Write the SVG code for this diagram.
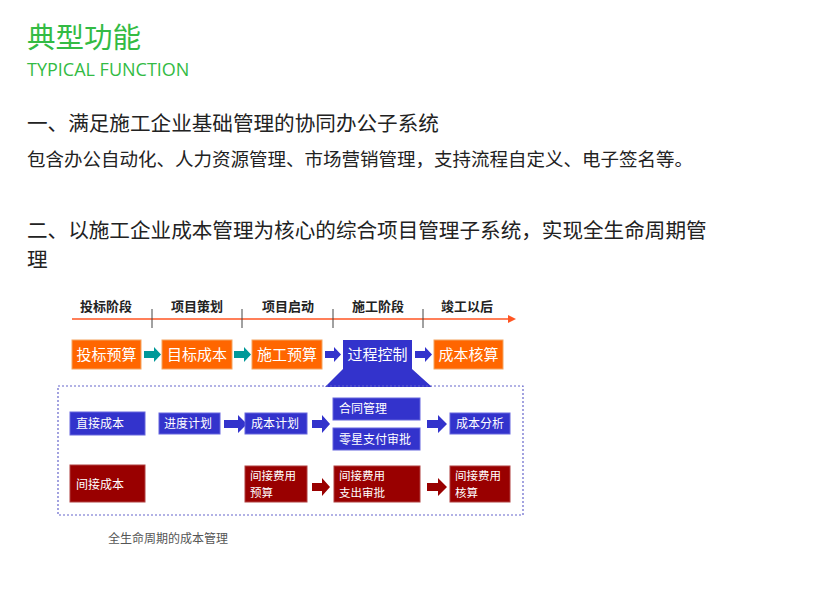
<svg xmlns="http://www.w3.org/2000/svg" width="828" height="590" viewBox="0 0 828 590">
<style>
text{font-family:"Noto Sans CJK SC","Noto Sans",sans-serif}
.o{fill:#FF6600;stroke:#F4A460;stroke-width:1}
.b{fill:#3333CC;stroke:#6666DD;stroke-width:1}
.r{fill:#990000;stroke:#B04040;stroke-width:1}
.lt{fill:#fff;font-size:15px;text-anchor:middle}
.st{fill:#fff;font-size:12px}
.st2{fill:#fff;font-size:11.5px}
.stg{fill:#222;font-size:13px;font-weight:bold;text-anchor:middle}
</style>
<rect width="828" height="590" fill="#fff"/>
<text x="27" y="48" font-size="28.5" fill="#33BB44">典型功能</text>
<text x="27" y="76" font-size="18" fill="#33BB44" style="font-family:'Open Sans',sans-serif">TYPICAL FUNCTION</text>
<text x="27" y="131" font-size="20.6" fill="#222">一、满足施工企业基础管理的协同办公子系统</text>
<text x="27" y="166" font-size="18.5" fill="#222">包含办公自动化、人力资源管理、市场营销管理，支持流程自定义、电子签名等。</text>
<text x="27" y="238" font-size="20.6" fill="#222">二、以施工企业成本管理为核心的综合项目管理子系统，实现全生命周期管</text>
<text x="27" y="267" font-size="20.6" fill="#222">理</text>
<g id="timeline">
<line x1="72" y1="319" x2="510" y2="319" stroke="#FF5522" stroke-width="1.5"/>
<polygon points="508,315 516,319 508,323" fill="#FF5522"/>
<g stroke="#444" stroke-width="1"><line x1="152" y1="309" x2="152" y2="328"/><line x1="242" y1="309" x2="242" y2="328"/><line x1="333" y1="309" x2="333" y2="328"/><line x1="423" y1="309" x2="423" y2="328"/></g>
<text class="stg" x="106" y="311">投标阶段</text><text class="stg" x="197" y="311">项目策划</text><text class="stg" x="288" y="311">项目启动</text><text class="stg" x="378" y="311">施工阶段</text><text class="stg" x="467" y="311">竣工以后</text>
</g>
<g id="connectors">
<g fill="#009999"><polygon points="144,351 154,351 154,347 161,354.5 154,362 154,358 144,358"/><polygon points="234,351 244,351 244,347 251,354.5 244,362 244,358 234,358"/></g>
<g fill="#3333CC"><polygon points="325,351 334,351 334,347 341,354.5 334,362 334,358 325,358"/><polygon points="415,351 425,351 425,347 432,354.5 425,362 425,358 415,358"/>
<polygon points="224,420 238,420 238,415 247,424 238,433 238,428 224,428"/><polygon points="312,420 322,420 322,415 330,424 322,433 322,428 312,428"/><polygon points="427,420 438,420 438,415 447,424 438,433 438,428 427,428"/></g>
<g fill="#990000"><polygon points="312,483 322,483 322,478 330,487 322,496 322,491 312,491"/><polygon points="427,483 438,483 438,478 447,487 438,496 438,491 427,491"/></g>
</g>
<g id="n1"><rect class="o" x="72" y="340" width="69" height="29"/><text class="lt" x="106.5" y="360">投标预算</text></g>
<g id="n2"><rect class="o" x="162" y="340" width="70" height="29"/><text class="lt" x="197" y="360">目标成本</text></g>
<g id="n3"><rect class="o" x="252" y="340" width="70" height="29"/><text class="lt" x="287" y="360">施工预算</text></g>
<g id="n4"><polygon points="343,340 412,340 412,369 432,387 325,387 343,369" fill="#3333CC"/><text class="lt" x="377.5" y="360">过程控制</text></g>
<g id="n5"><rect class="o" x="434" y="340" width="69" height="29"/><text class="lt" x="468.5" y="360">成本核算</text></g>
<rect x="58" y="386" width="465" height="129" fill="none" stroke="#6666CC" stroke-width="1.2" stroke-dasharray="2,2"/>
<g id="d1"><rect class="b" x="70" y="412" width="75" height="23"/><text class="st" x="76" y="428">直接成本</text></g>
<g id="d2"><rect class="b" x="159" y="413" width="61" height="21"/><text class="st" x="164" y="428">进度计划</text></g>
<g id="d3"><rect class="b" x="245" y="413" width="62" height="21"/><text class="st" x="251" y="428">成本计划</text></g>
<g id="d4"><rect class="b" x="333" y="398" width="87" height="22"/><text class="st" x="339" y="413">合同管理</text></g>
<g id="d5"><rect class="b" x="333" y="428" width="87" height="22"/><text class="st" x="339" y="444">零星支付审批</text></g>
<g id="d6"><rect class="b" x="450" y="413" width="60" height="21"/><text class="st" x="456" y="428">成本分析</text></g>
<g id="i1"><rect class="r" x="70" y="465" width="75" height="37"/><text class="st" x="76" y="489">间接成本</text></g>
<g id="i2"><rect class="r" x="245" y="466" width="62" height="36"/><text class="st2" x="250" y="480">间接费用</text><text class="st2" x="250" y="497">预算</text></g>
<g id="i3"><rect class="r" x="334" y="466" width="86" height="36"/><text class="st2" x="339" y="480">间接费用</text><text class="st2" x="339" y="497">支出审批</text></g>
<g id="i4"><rect class="r" x="450" y="466" width="60" height="36"/><text class="st2" x="455" y="480">间接费用</text><text class="st2" x="455" y="497">核算</text></g>
<text x="108" y="543" font-size="12" fill="#555">全生命周期的成本管理</text>
</svg>
